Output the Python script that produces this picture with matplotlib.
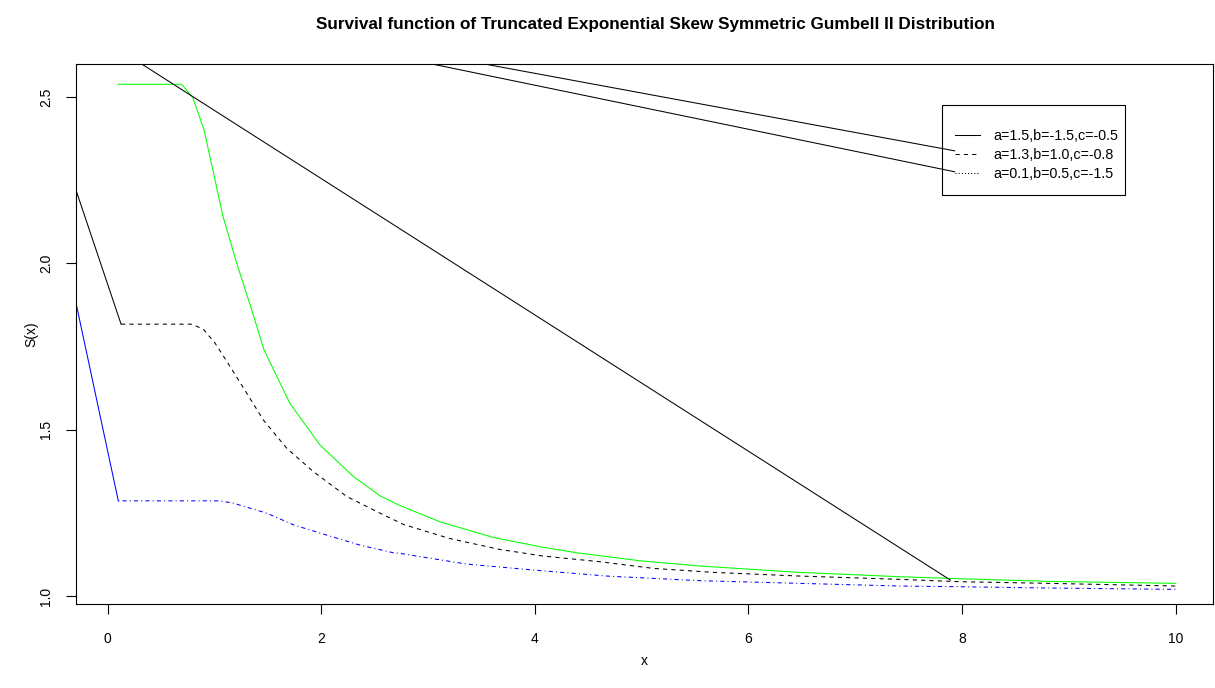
import matplotlib
matplotlib.use("Agg")
import matplotlib.pyplot as plt
from matplotlib.patches import Rectangle

plt.rcParams['font.family'] = ['Liberation Sans', 'DejaVu Sans']

# curves
x_green = [0.094, 0.693, 0.796, 0.902, 1.080, 1.208, 1.348, 1.464, 1.706, 1.987,
           2.300, 2.550, 2.737, 3.11, 3.61, 4.05, 4.39, 4.98, 5.55, 6.48, 7.42,
           7.98, 8.82, 10.0]
y_green = [2.538, 2.538, 2.498, 2.401, 2.140, 2.000, 1.860, 1.739, 1.579, 1.454,
           1.359, 1.301, 1.272, 1.223, 1.176, 1.148, 1.130, 1.106, 1.090, 1.071, 1.058,
           1.052, 1.044, 1.038]

x_dash = [0.125, 0.787, 0.895, 1.005, 1.145, 1.301, 1.457, 1.676, 1.925, 2.238,
          2.550, 2.77, 3.20, 3.67, 4.08, 4.61, 5.11, 5.67, 6.48, 7.42, 7.98, 8.82, 10.0]
y_dash = [1.817, 1.817, 1.802, 1.760, 1.690, 1.610, 1.529, 1.444, 1.374, 1.299,
          1.249, 1.215, 1.173, 1.140, 1.120, 1.103, 1.083, 1.071, 1.060, 1.050, 1.043,
          1.038, 1.030]

x_blue = [0.099, 1.051, 1.176, 1.489, 1.738, 2.051, 2.362, 2.674, 2.74, 3.36,
          3.99, 4.67, 5.55, 6.48, 7.42, 7.95, 8.82, 10.0]
y_blue = [1.286, 1.286, 1.279, 1.249, 1.214, 1.183, 1.153, 1.130, 1.128, 1.096,
          1.078, 1.060, 1.046, 1.038, 1.030, 1.028, 1.024, 1.020]

# straight solid segments
x_lead_black = [-0.4, 0.125]
y_lead_black = [2.318, 1.817]
x_lead_blue = [-0.4, 0.099]
y_lead_blue = [2.035, 1.286]
x_diag = [0.0, 7.89]
y_diag = [2.664, 1.048]
x_conn_a = [0.0, 7.93]
y_conn_a = [2.808, 2.338]
x_conn_b = [0.0, 7.93]
y_conn_b = [2.800, 2.275]

labels = ['a=1.5,b=-1.5,c=-0.5', 'a=1.3,b=1.0,c=-0.8', 'a=0.1,b=0.5,c=-1.5']
xticks = [0, 2, 4, 6, 8, 10]
yticks = [1.0, 1.5, 2.0, 2.5]

fig = plt.figure(figsize=(12.15, 6.88), dpi=100)
ax = fig.add_axes([0.0623, 0.1221, 0.9361, 0.7849])

lw = 0.75
ax.plot(x_green, y_green, color='#00ff00', lw=lw)
ax.plot(x_dash, y_dash, color='black', lw=lw, dashes=(4, 4))
ax.plot(x_blue, y_blue, color='#0000ff', lw=lw, dashes=(1, 3, 4, 3))
ax.plot(x_lead_black, y_lead_black, color='black', lw=lw)
ax.plot(x_lead_blue, y_lead_blue, color='#0000ff', lw=lw)
ax.plot(x_diag, y_diag, color='black', lw=lw)
ax.plot(x_conn_a, y_conn_a, color='black', lw=lw)
ax.plot(x_conn_b, y_conn_b, color='black', lw=lw)

ax.set_xlim(-0.30, 10.35)
ax.set_ylim(0.976, 2.599)
ax.set_xticks(xticks)
ax.set_xticklabels([str(t) for t in xticks])
ax.set_yticks(yticks)
ax.set_yticklabels(['%.1f' % t for t in yticks], rotation=90, va='center')
ax.tick_params(axis='x', length=7, width=0.8, pad=13, labelsize=10)
ax.tick_params(axis='y', length=7, width=0.8, pad=9, labelsize=10)
for s in ax.spines.values():
    s.set_linewidth(0.8)

ax.set_xlabel('x', fontsize=10, labelpad=6)
ax.set_ylabel('S(x)', fontsize=10, labelpad=1)
ax.set_title('Survival function of Truncated Exponential Skew Symmetric Gumbell II Distribution',
             fontsize=12.3, fontweight='bold', pad=25, x=0.5094)

# legend: R style box, transparent
ax.add_patch(Rectangle((0.7615, 0.757), 0.1611, 0.167, transform=ax.transAxes,
                       fill=False, edgecolor='black', lw=0.8))
h1, = ax.plot([], [], color='black', lw=lw)
h2, = ax.plot([], [], color='black', lw=lw, dashes=(4, 4))
h3, = ax.plot([], [], color='black', lw=lw, dashes=(1, 2))
leg = ax.legend([h1, h2, h3], labels, loc='upper left', bbox_to_anchor=(0.7731, 0.880),
                borderaxespad=0, borderpad=0, fontsize=10.3, handlelength=1.75,
                handletextpad=0.9, labelspacing=0.37, frameon=False)

fig.savefig('out.png', dpi=100)
